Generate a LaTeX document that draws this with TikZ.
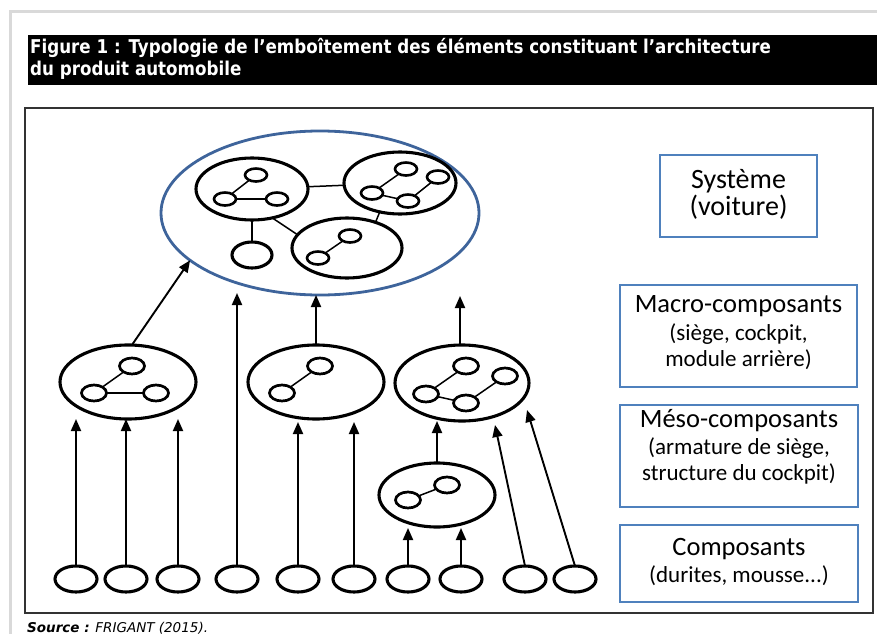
\documentclass[tikz,border=0pt]{standalone}
\usepackage{fontspec}
\setmainfont{Carlito}
\newfontfamily\vfont{DejaVu Sans}
\usetikzlibrary{shapes.geometric,arrows.meta}
\definecolor{bigblue}{RGB}{62,100,155}
\definecolor{boxblue}{RGB}{79,129,189}
\newcommand\hdtxt{\fontsize{26.5}{29}\selectfont}
\newcommand\sbtxt{\fontsize{23}{27}\selectfont}
\begin{document}
\begin{tikzpicture}[x=1pt,y=-1pt,
  el/.style={draw, ellipse, line width=3.1pt, inner sep=0pt, outer sep=0pt},
  big/.style={el, draw=bigblue, line width=2.8pt},
  mid/.style={el, minimum width=136pt, minimum height=74pt},
  inb/.style={el, minimum width=112pt, minimum height=62pt},
  sm/.style={el, line width=2.7pt, minimum width=25pt, minimum height=16pt},
  smb/.style={el, line width=2.6pt, minimum width=22pt, minimum height=13pt},
  bot/.style={el, minimum width=42pt, minimum height=26pt},
  link/.style={line width=1.5pt},
  arr/.style={line width=1.9pt, -{Triangle[length=12pt,width=10pt]}},
  lvl/.style={draw=boxblue, line width=2.8pt, rectangle, inner sep=0pt},
  ttl/.style={anchor=base west, text=white, inner sep=0pt},
  lvtxt/.style={anchor=mid, inner sep=0pt},
]
\useasboundingbox (0,0) rectangle (877,634);
\fill[white] (0,0) rectangle (877,634);
% outer light frame
\draw[black!15, line width=3pt] (877,12) -- (10,12) -- (10,634);
% title bar
\fill[black] (28,35) rectangle (877,85);
\node[ttl] (t1) at (30,54) {\scalebox{0.88}[1]{\vfont\bfseries\fontsize{19}{21}\selectfont Figure 1 : Typologie de l’emboîtement des éléments constituant l’architecture}};
\node[ttl] (t2) at (30,75) {\scalebox{0.88}[1]{\vfont\bfseries\fontsize{19}{21}\selectfont du produit automobile}};
% inner frame
\draw[black!80, line width=1.5pt] (25,108) rectangle (873,613);
% source
\node[anchor=base west, inner sep=0pt, font=\vfont\fontsize{13.5}{15}\selectfont] (src) at (27,632) {\textbf{\textit{Source :}} \textit{FRIGANT (2015).}};

% ===== system level =====
\node[big, minimum width=318pt, minimum height=164pt] (Big) at (320,213) {};
\node[inb] (A) at (252,189) {};
\node[inb] (B) at (400,183) {};
\node[inb, minimum width=110pt, minimum height=60pt] (C) at (347,248) {};
\node[el, minimum width=40pt, minimum height=26pt] (D) at (252,255) {};
\node[smb] (a1) at (256,175) {};
\node[smb] (a2) at (225,199) {};
\node[smb] (a3) at (277,199) {};
\draw[link] (a2) -- (a1);
\draw[link] (a2) -- (a3);
\node[smb] (b1x) at (406,169) {};
\node[smb] (b2x) at (438,177) {};
\node[smb] (b3x) at (372,193) {};
\node[smb] (b4x) at (408,201) {};
\draw[link] (b3x) -- (b1x);
\draw[link] (b3x) -- (b4x);
\draw[link] (b4x) -- (b2x);
\node[smb] (c1) at (350,236) {};
\node[smb] (c2) at (318,258) {};
\draw[link] (c2) -- (c1);
\draw[link] (A) -- (B);
\draw[link] (A.south) -- (D.north);
\draw[link] (A.-55) -- (C.165);
\draw[link] (B.235) -- (C.42);

% ===== macro level =====
\node[mid] (M1) at (128,382) {};
\node[sm] (m1a) at (132,366) {};
\node[sm] (m1b) at (94,393) {};
\node[sm] (m1c) at (156,393) {};
\draw[link] (m1b) -- (m1a);
\draw[link] (m1b) -- (m1c);
\node[mid] (M2) at (316,382) {};
\node[sm] (m2a) at (320,366) {};
\node[sm] (m2b) at (282,393) {};
\draw[link] (m2b) -- (m2a);
\node[mid, minimum width=134pt, minimum height=76pt] (M3) at (462,383) {};
\node[sm] (m3a) at (466,366) {};
\node[sm] (m3b) at (426,394) {};
\node[sm] (m3c) at (466,403) {};
\node[sm] (m3d) at (505,376) {};
\draw[link] (m3b) -- (m3a);
\draw[link] (m3b) -- (m3c);
\draw[link] (m3c) -- (m3d);

% ===== meso level =====
\node[el, minimum width=116pt, minimum height=64pt] (E) at (437,495) {};
\node[sm] (e1) at (447,485) {};
\node[sm] (e2) at (408,500) {};
\draw[link] (e2) -- (e1);

% ===== components =====
\foreach \i/\x in {1/76,2/126,3/178,4/237,5/298,6/354,7/408,8/461,9/525,10/575}
  \node[bot] (k\i) at (\x,579) {};

% ===== arrows =====
\coordinate (tipBig1) at (237,293);
\coordinate (tipM3) at (460,296);
\coordinate (tip9) at (495,425);
\coordinate (tip10) at (527,410);
\draw[arr] (M1.84) -- (Big.200);
\draw[arr] (M2.north) -- (M2.north |- Big.south);
\draw[arr] (M3.north -| tipM3) -- (tipM3);
\draw[arr] (k4.north) -- (tipBig1);
\draw[arr] (k1.north) -- (k1.north |- M1.south);
\draw[arr] (k2.north) -- (k2.north |- M1.south);
\draw[arr] (k3.north) -- (k3.north |- M1.south);
\draw[arr] (k5.north) -- ([yshift=-3pt]k5.north |- M2.south);
\draw[arr] (k6.north) -- ([yshift=-3pt]k6.north |- M2.south);
\draw[arr] (E.north) -- (E.north |- M3.south);
\draw[arr] (k7.north) -- ([yshift=-1pt]k7.north |- E.south);
\draw[arr] (k8.north) -- ([yshift=-1pt]k8.north |- E.south);
\draw[arr] (k9.north) -- (tip9);
\draw[arr] (k10.north) -- (tip10);

% ===== level boxes =====
\node[lvl, minimum width=157pt, minimum height=82pt] (L1) at (738.5,196) {};
\node[lvtxt, font=\fontsize{28}{30}\selectfont] (L1a) at (738.5,186) {Système};
\node[lvtxt, font=\fontsize{28}{30}\selectfont] (L1b) at (738.5,213) {(voiture)};
\node[lvl, minimum width=237pt, minimum height=102pt] (L2) at (738.5,336) {};
\node[lvtxt, font=\hdtxt] (L2a) at (738.5,310) {Macro-composants};
\node[lvtxt, font=\sbtxt] (L2b) at (738.5,338) {(siège, cockpit,};
\node[lvtxt, font=\sbtxt] (L2c) at (738.5,364) {module arrière)};
\node[lvl, minimum width=238pt, minimum height=102pt] (L3) at (739,456) {};
\node[lvtxt, font=\hdtxt] (L3a) at (739,425) {Méso-composants};
\node[lvtxt, font=\sbtxt] (L3b) at (739,452) {(armature de siège,};
\node[lvtxt, font=\sbtxt] (L3c) at (739,478) {structure du cockpit)};
\node[lvl, minimum width=238pt, minimum height=77pt] (L4) at (739,563.5) {};
\node[lvtxt, font=\hdtxt] (L4a) at (739,553) {Composants};
\node[lvtxt, font=\sbtxt] (L4b) at (739,580) {(durites, mousse...)};
\end{tikzpicture}
\end{document}
